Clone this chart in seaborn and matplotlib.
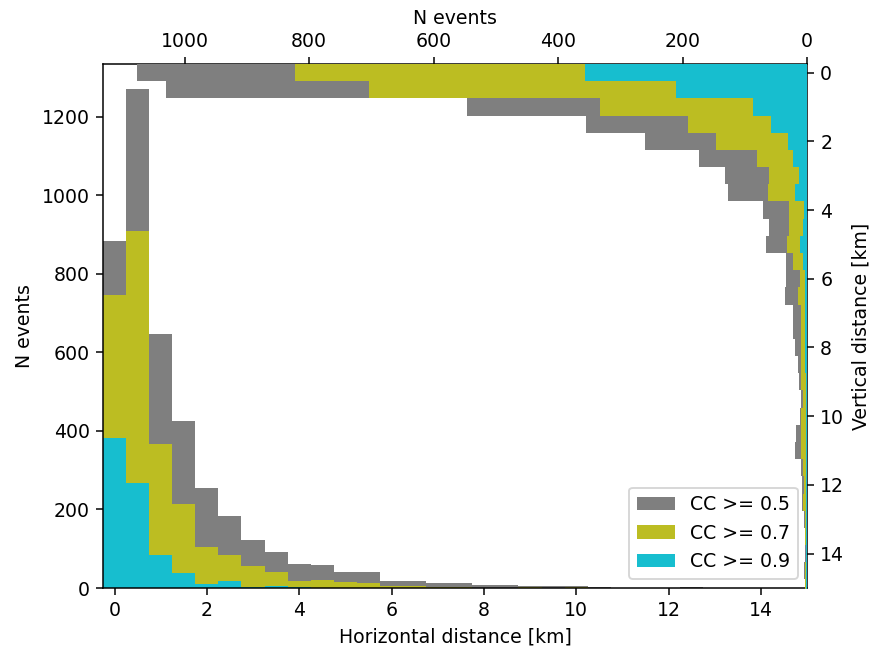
import numpy as np
import matplotlib
matplotlib.use("Agg")
import matplotlib.pyplot as plt
import seaborn as sns
from matplotlib.patches import Patch

# ---- data (bin centres in km, counts per 0.5 km bin) ----
bin_centers = [0.0, 0.5, 1.0, 1.5, 2.0, 2.5, 3.0, 3.5, 4.0, 4.5, 5.0, 5.5, 6.0, 6.5, 7.0, 7.5,
               8.0, 8.5, 9.0, 9.5, 10.0, 10.5, 11.0, 11.5, 12.0, 12.5, 13.0, 13.5, 14.0, 14.5, 15.0]
bin_edges = [c - 0.25 for c in bin_centers] + [bin_centers[-1] + 0.25]

labels = ["CC >= 0.5", "CC >= 0.7", "CC >= 0.9"]
colors = ["#7f7f7f", "#bcbd22", "#17becf"]

# horizontal distance histograms
horiz_cc05 = [884, 1271, 647, 425, 255, 183, 122, 92, 61, 59, 40, 42, 18, 18, 14, 14,
              8, 8, 5, 5, 4, 2, 0, 0, 0, 2, 0, 0, 0, 0, 0]
horiz_cc07 = [746, 909, 367, 215, 104, 84, 56, 41, 18, 20, 16, 14, 5, 5, 3, 3,
              1, 1, 3, 1, 3, 0, 0, 0, 0, 0, 0, 0, 0, 0, 0]
horiz_cc09 = [383, 267, 84, 38, 11, 18, 3, 5, 2, 1, 0, 0, 0, 0, 0, 0,
              0, 0, 0, 0, 0, 0, 0, 0, 0, 0, 0, 0, 0, 0, 0]

# vertical distance histograms
vert_cc05 = [1077, 1030, 547, 355, 260, 173, 132, 127, 71, 61, 66, 33, 33, 36, 23, 22,
             20, 15, 13, 10, 12, 17, 19, 10, 8, 8, 5, 4, 4, 5, 3]
vert_cc07 = [823, 703, 332, 191, 146, 80, 61, 63, 29, 29, 32, 23, 12, 15, 9, 9,
             10, 9, 9, 6, 9, 10, 9, 7, 5, 6, 3, 3, 2, 4, 3]
vert_cc09 = [356, 210, 87, 58, 31, 22, 13, 19, 5, 6, 11, 7, 4, 4, 3, 4,
             4, 3, 2, 2, 2, 2, 2, 1, 1, 1, 1, 1, 1, 1, 1]

horiz = [horiz_cc05, horiz_cc07, horiz_cc09]
vert = [vert_cc05, vert_cc07, vert_cc09]

dpi = 136
fig = plt.figure(figsize=(874 / dpi, 651 / dpi), dpi=dpi)
ax = fig.add_axes([103 / 874, 1 - 588 / 651, (807 - 103) / 874, (588 - 64) / 651])

for counts, col in zip(horiz, colors):
    sns.histplot(x=bin_centers, weights=counts, bins=bin_edges, element="step",
                 fill=True, color=col, alpha=1, linewidth=0, ax=ax)
ax.set_xlim(-0.25, 15.0)
ax.set_ylim(0, 1335)
ax.set_xticks([0, 2, 4, 6, 8, 10, 12, 14])
ax.set_yticks([0, 200, 400, 600, 800, 1000, 1200])
ax.set_xlabel("Horizontal distance [km]")
ax.set_ylabel("N events")

ax2 = fig.add_axes(ax.get_position(), frameon=False)
for counts, col in zip(vert, colors):
    sns.histplot(y=bin_centers, weights=counts, bins=bin_edges, element="step",
                 fill=True, color=col, alpha=1, linewidth=0, ax=ax2)
ax2.set_xlim(1131, 0)
ax2.set_ylim(15.0, -0.25)
ax2.xaxis.set_ticks_position("top")
ax2.xaxis.set_label_position("top")
ax2.yaxis.set_ticks_position("right")
ax2.yaxis.set_label_position("right")
ax2.set_xticks([0, 200, 400, 600, 800, 1000])
ax2.set_yticks([0, 2, 4, 6, 8, 10, 12, 14])
ax2.set_xlabel("N events")
ax2.set_ylabel("Vertical distance [km]")

handles = [Patch(facecolor=c, edgecolor="none", label=l) for c, l in zip(colors, labels)]
ax2.legend(handles=handles, loc="lower right")

fig.savefig("out.png", dpi=dpi)
